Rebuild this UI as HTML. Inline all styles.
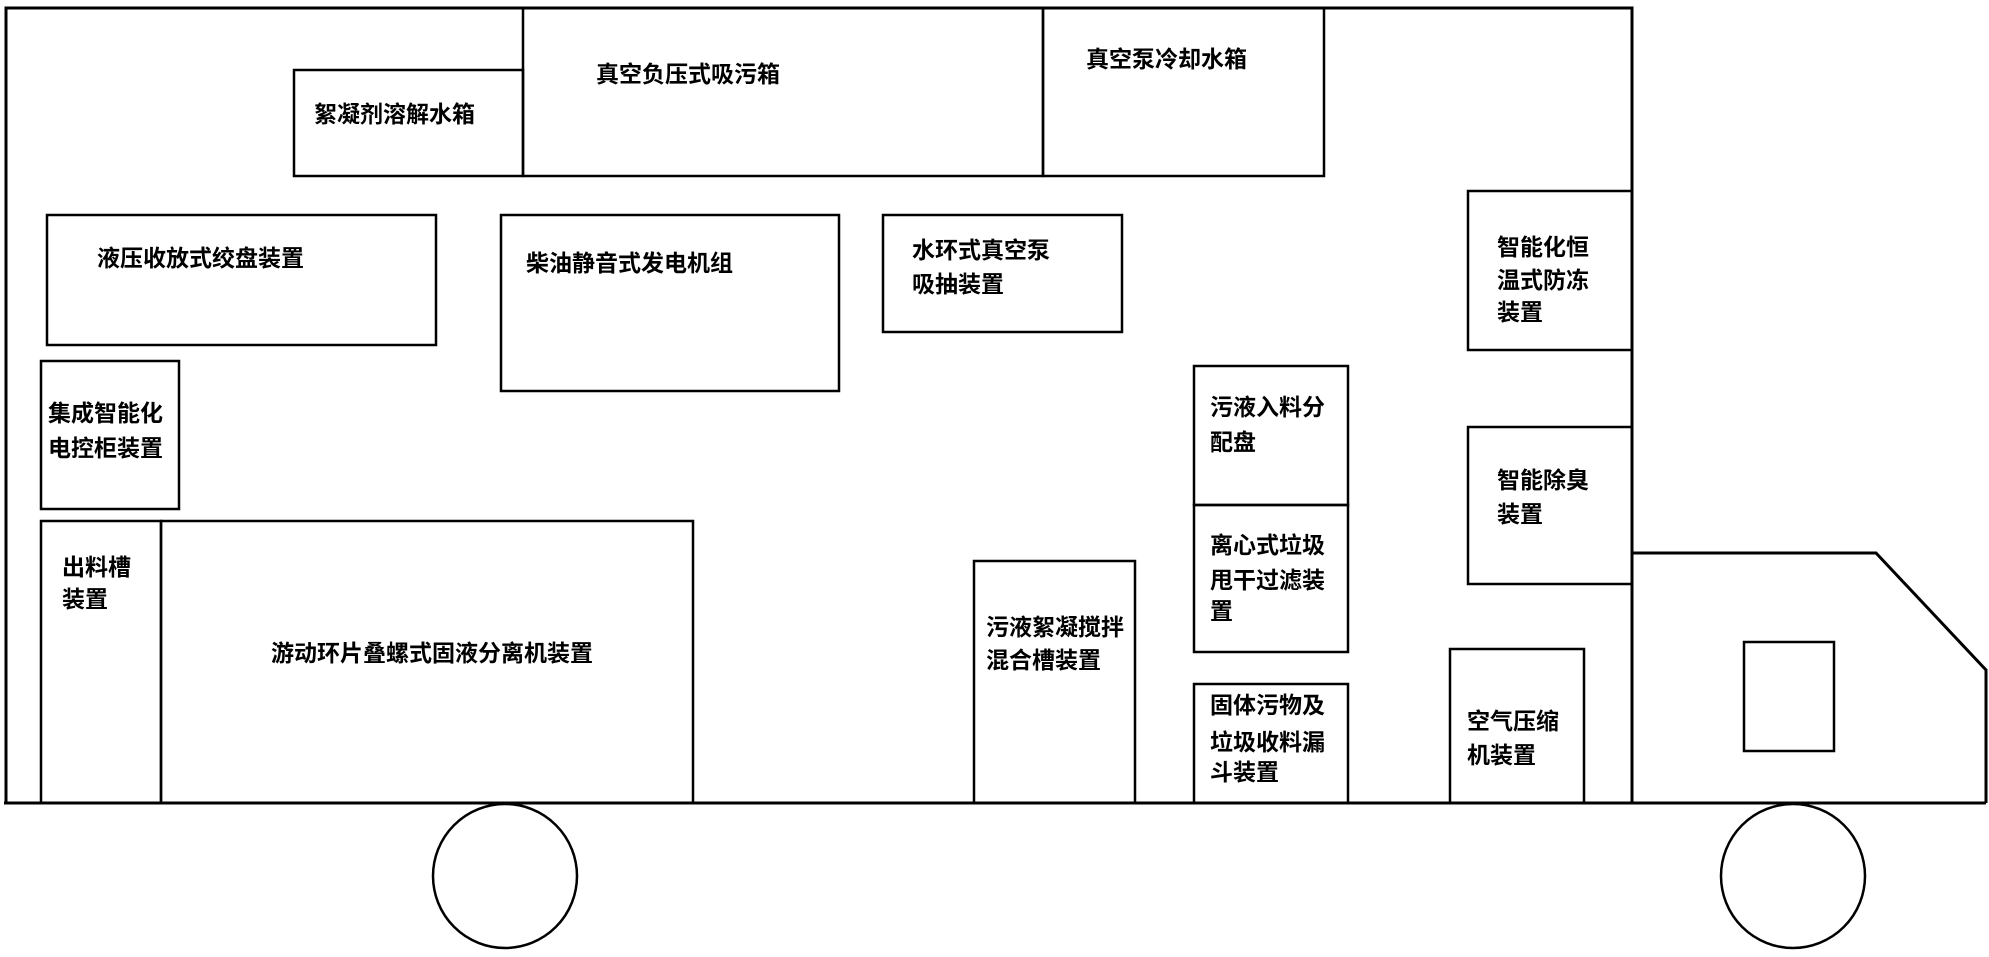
<!DOCTYPE html>
<html><head><meta charset="utf-8"><style>
html,body{margin:0;padding:0;background:#fff;}
svg{display:block}
text{font-family:"Liberation Sans","Noto Sans CJK SC",sans-serif;font-size:23px;font-weight:bold;fill:#000}
</style></head><body>
<svg width="1989" height="957" viewBox="0 0 1989 957" xmlns="http://www.w3.org/2000/svg">
<g fill="none" stroke="#000" stroke-width="3">
<path d="M6 803 L6 8 L1632 8 L1632 803"/>
<line x1="4" y1="803" x2="1986" y2="803"/>
<path d="M1632 553 L1876 553 L1986 670 L1986 803"/>
</g>
<g fill="none" stroke="#000" stroke-width="2.5">
<rect x="1744" y="642" width="90" height="109"/>
<ellipse cx="505" cy="876" rx="72" ry="72"/>
<ellipse cx="1793" cy="876" rx="72" ry="72"/>
<rect x="294" y="70" width="229" height="106"/>
<rect x="523" y="8" width="520" height="168"/>
<rect x="1043" y="8" width="281" height="168"/>
<rect x="47" y="215" width="389" height="130"/>
<rect x="501" y="215" width="338" height="176"/>
<rect x="883" y="215" width="239" height="117"/>
<rect x="41" y="361" width="138" height="148"/>
<rect x="1468" y="191" width="164" height="159"/>
<rect x="1468" y="427" width="164" height="157"/>
<rect x="1194" y="366" width="154" height="139"/>
<rect x="1194" y="505" width="154" height="147"/>
<rect x="1194" y="684" width="154" height="119"/>
<rect x="1450" y="649" width="134" height="154"/>
<rect x="974" y="561" width="161" height="242"/>
<rect x="41" y="521" width="120" height="282"/>
<rect x="161" y="521" width="532" height="282"/>
</g>
<text x="596" y="82">真空负压式吸污箱</text>
<text x="1086" y="67">真空泵冷却水箱</text>
<text x="314" y="122">絮凝剂溶解水箱</text>
<text x="97" y="266">液压收放式绞盘装置</text>
<text x="526" y="271">柴油静音式发电机组</text>
<text x="912" y="258">水环式真空泵</text>
<text x="912" y="292">吸抽装置</text>
<text x="48" y="421">集成智能化</text>
<text x="48" y="456">电控柜装置</text>
<text x="1497" y="255">智能化恒</text>
<text x="1497" y="288">温式防冻</text>
<text x="1497" y="320">装置</text>
<text x="1210" y="415">污液入料分</text>
<text x="1210" y="450">配盘</text>
<text x="1497" y="488">智能除臭</text>
<text x="1497" y="522">装置</text>
<text x="1210" y="553">离心式垃圾</text>
<text x="1210" y="588">甩干过滤装</text>
<text x="1210" y="619">置</text>
<text x="1210" y="713">固体污物及</text>
<text x="1210" y="750">垃圾收料漏</text>
<text x="1210" y="780">斗装置</text>
<text x="1467" y="729">空气压缩</text>
<text x="1467" y="763">机装置</text>
<text x="986" y="635">污液絮凝搅拌</text>
<text x="986" y="668">混合槽装置</text>
<text x="62" y="575">出料槽</text>
<text x="62" y="607">装置</text>
<text x="271" y="661">游动环片叠螺式固液分离机装置</text>
</svg>
</body></html>
